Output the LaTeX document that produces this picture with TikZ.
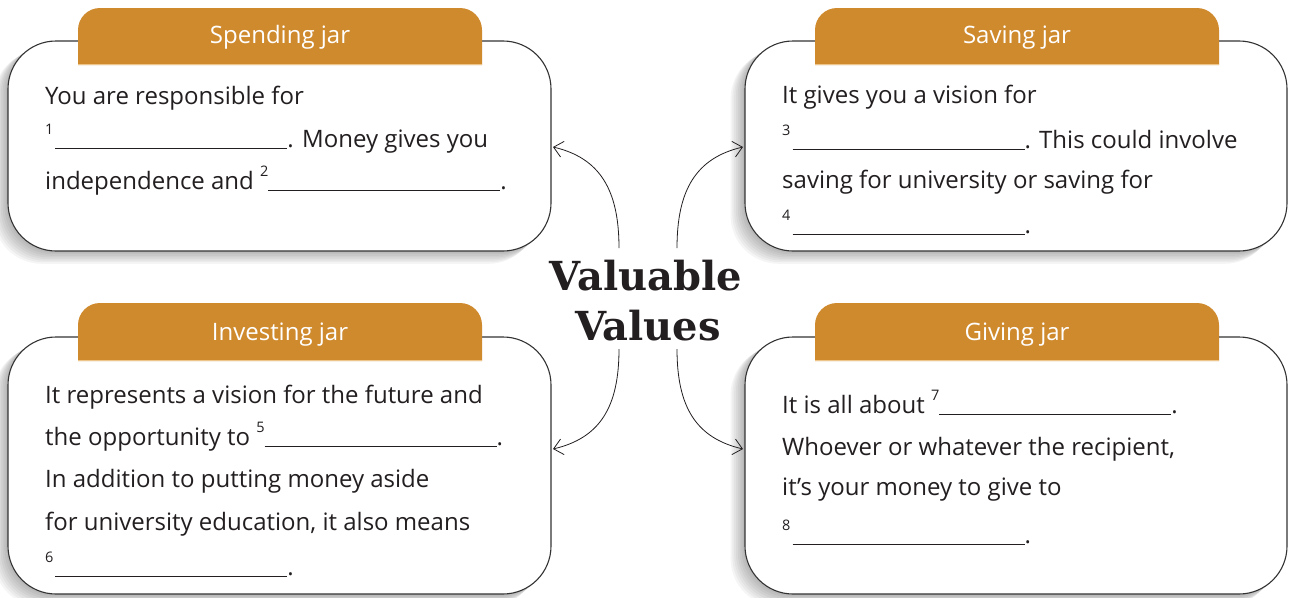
\documentclass[tikz,border=0pt]{standalone}
\usepackage{fontspec}
\setmainfont{Open Sans}
\newfontfamily\titlefont{DejaVu Serif}
\usetikzlibrary{arrows.meta}
\definecolor{tabc}{HTML}{CF8A2E}
\definecolor{tabline}{HTML}{EDC48A}
\definecolor{ink}{HTML}{231F20}
\definecolor{edge}{HTML}{333333}
\newcommand\supn[1]{\raisebox{13pt}{\fontsize{14.5}{14.5}\selectfont #1}}
\newcommand\blank{\rule[-1.6pt]{232pt}{1.1pt}}
% #1 name, #2 x1, #3 y1, #4 x2, #5 y2, #6 tab top, #7 tab bottom
\newcommand\drawjar[7]{%
  \foreach \s in {1,...,8} {\fill[black,opacity=0.04,rounded corners=48pt] ({#2-1.8*\s},{#3+1.2*\s}) rectangle ({#4-1.8*\s},{#5+1.6*\s});}
  \node[jarbox, minimum width={(#4-#2)*1pt}, minimum height={(#5-#3)*1pt}] (#1) at ({(#2+#4)/2},{(#3+#5)/2}) {};
  \fill[tabc] ({#2+70},#7) [rounded corners=22pt] -- ({#2+70},#6) -- ({#2+474},#6) [sharp corners] -- ({#2+474},#7) -- cycle;
  \draw[tabline, line width=1pt] ({#2+70},{#7-0.5}) -- ({#2+474},{#7-0.5});
}
\begin{document}
\begin{tikzpicture}[x=1pt,y=-1pt,
  jarbox/.style={draw=edge, line width=1.1pt, fill=white, rounded corners=48pt, inner sep=0pt},
  txt/.style={anchor=base west, inner sep=0pt, font=\fontsize{24}{28}\selectfont, text=ink},
  tabtxt/.style={anchor=base, inner sep=0pt, font=\fontsize{24}{28}\selectfont, text=white},
  ttl/.style={anchor=base, inner sep=0pt, font=\titlefont\bfseries\fontsize{40}{44}\selectfont, text=ink},
  conn/.style={draw=ink, line width=0.8pt, -{Straight Barb[length=9pt,width=16pt]}}]
\useasboundingbox (0,0) rectangle (1290,597);

\drawjar{spend}{8}{41}{551}{251}{8}{65}
\drawjar{save}{745}{41}{1287}{251}{8}{65}
\drawjar{invest}{8}{337}{551}{594}{303}{361}
\drawjar{give}{745}{337}{1287}{594}{303}{361}

\node[tabtxt] (tspend) at (280,43) {Spending jar};
\node[tabtxt] (tsave) at (1017,43) {Saving jar};
\node[tabtxt] (tinvest) at (280,340) {Investing jar};
\node[tabtxt] (tgive) at (1017,340) {Giving jar};

% Spending
\node[txt] (s1) at (45,104) {You are responsible for};
\node[txt] (s2) at (45,147) {\supn{1}\hspace{2pt}\blank. Money gives you};
\node[txt] (s3) at (45,189) {independence and \supn{2}\blank.};
% Saving
\node[txt] (v1) at (782,103) {It gives you a vision for};
\node[txt] (v2) at (782,148) {\supn{3}\hspace{2pt}\blank. This could involve};
\node[txt] (v3) at (782,188) {saving for university or saving for};
\node[txt] (v4) at (782,233) {\supn{4}\hspace{2pt}\blank.};
% Investing
\node[txt] (i1) at (45,403) {It represents a vision for the future and};
\node[txt] (i2) at (45,445) {the opportunity to \supn{5}\blank.};
\node[txt] (i3) at (45,487) {In addition to putting money aside};
\node[txt] (i4) at (45,530) {for university education, it also means};
\node[txt] (i5) at (45,575) {\supn{6}\hspace{2pt}\blank.};
% Giving
\node[txt] (g1) at (782,413) {It is all about \supn{7}\blank.};
\node[txt] (g2) at (782,455) {Whoever or whatever the recipient,};
\node[txt] (g3) at (782,495) {it’s your money to give to};
\node[txt] (g4) at (782,543) {\supn{8}\hspace{2pt}\blank.};

% Title
\node[ttl] (title1) at (646,290) {Valuable};
\node[ttl] (title2) at (648,340) {Values};

% connectors
\coordinate (a1) at (619,248);
\coordinate (a2) at (677,248);
\coordinate (a3) at (619,349);
\coordinate (a4) at (677,349);
\coordinate (e1) at (553,147);
\coordinate (e2) at (743,147);
\coordinate (e3) at (553,449);
\coordinate (e4) at (743,449);
\draw[conn] (a1) .. controls (619,190) and (600,158) .. (e1);
\draw[conn] (a2) .. controls (677,190) and (696,158) .. (e2);
\draw[conn] (a3) .. controls (619,407) and (600,438) .. (e3);
\draw[conn] (a4) .. controls (677,407) and (696,438) .. (e4);
\end{tikzpicture}
\end{document}
